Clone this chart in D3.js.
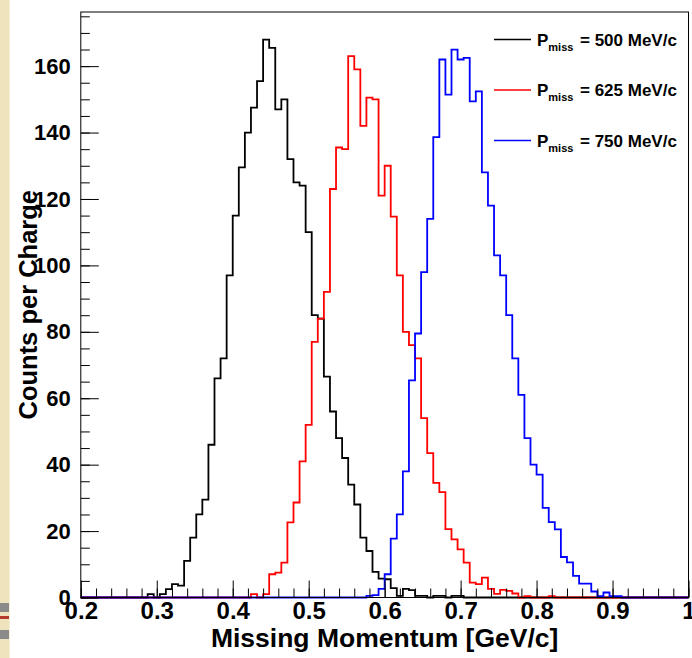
<!DOCTYPE html>
<html>
<head>
<meta charset="utf-8">
<script src="https://cdn.jsdelivr.net/npm/d3@7"></script>
<style>
  body { margin: 0; background: #fff; }
  text { font-family: "Liberation Sans", Arial, Helvetica, sans-serif; font-weight: bold; fill: #000; }
</style>
</head>
<body>
<div id="chart"></div>
<script>
// histogram binning (GeV/c)
var binLow = 0.2;
var binWidth = 0.008;

// Counts per charge, read bin by bin; first entry is the bin index given in start*
var start500 = 10;
var counts500 = [0, 1, 0, 1, 2.5, 4, 3.6, 11, 18, 25, 29.5, 46, 66, 72, 97, 115, 129.5, 140, 147.5, 155.5,
                 168, 165.5, 147, 150, 132, 125, 124, 110, 85, 84, 66.5, 56, 48, 42, 34, 28, 18, 14, 7.7, 5.7,
                 5.5, 2.8, 0.5, 2.6, 2.2, 0.5, 0.5, 0, 0.5, 0.5, 0, 0.5, 0.5];
var start625 = 28;
var counts625 = [1, 0, 1, 7, 7.5, 10.5, 22.6, 28.6, 41, 52, 77, 84, 92, 123, 135.5, 135, 163, 159, 142, 150.5,
                 150, 121, 130, 114.7, 97, 80, 76, 72, 54, 43.5, 34.5, 31.7, 20.6, 17.5, 14.5, 10.5, 4.5, 4, 6, 2.6,
                 1.1, 2.3, 2, 1.2, 0, 0.4, 0, 0, 0, 0.4];
var start750 = 47;
var counts750 = [0.5, 0.7, 2.6, 7, 17.7, 25, 38, 65.4, 79.5, 98, 114, 138.6, 162, 151.4, 165, 162, 162.5, 149.4, 152.4, 128,
                 118, 103, 97, 85, 72, 61, 48, 40, 37, 27, 22.7, 20.5, 12.2, 10.6, 6.5, 4.2, 4.2, 1.8, 0.4, 1.5,
                 0.4, 0.4];

var seriesNames = ["500", "625", "750"];
var seriesColors = ["#000000", "#ff0000", "#0000ff"];

var xTicks = [0.2, 0.3, 0.4, 0.5, 0.6, 0.7, 0.8, 0.9, 1.0];
var xTickLabels = ["0.2", "0.3", "0.4", "0.5", "0.6", "0.7", "0.8", "0.9", "1"];
var yTicks = [0, 20, 40, 60, 80, 100, 120, 140, 160];

var W = 692, H = 658;
var frame = {left: 80.8, right: 688.5, top: 12, bottom: 597.5};

var svg = d3.select("#chart").append("svg")
            .attr("width", W)
            .attr("height", H);

//slide border on the left
svg.append("rect").attr("x", 0).attr("y", 0).attr("width", 9).attr("height", H).attr("fill", "#efe3bd");
svg.append("rect").attr("x", 9).attr("y", 0).attr("width", 1).attr("height", H).attr("fill", "#f6efd9");
svg.append("rect").attr("x", 0).attr("y", 603).attr("width", 9).attr("height", 9).attr("fill", "#8a8a8a");
svg.append("rect").attr("x", 0).attr("y", 616).attr("width", 9).attr("height", 3).attr("fill", "#b53a2e");
svg.append("rect").attr("x", 0).attr("y", 630).attr("width", 9).attr("height", 9).attr("fill", "#8a8a8a");

var xScale = d3.scaleLinear().domain([0.2, 1.0]).range([frame.left, frame.right]);
var yScale = d3.scaleLinear().domain([0, 176.3]).range([frame.bottom, frame.top]);

//histograms, drawn black -> red -> blue
function fullBins(start, vals) {
  var n = Math.round((1.0 - binLow) / binWidth);
  var out = [];
  for (var i = 0; i < n; i++) {
    var v = (i >= start && i - start < vals.length) ? vals[i - start] : 0;
    out.push({lo: binLow + i * binWidth, hi: binLow + (i + 1) * binWidth, v: v});
  }
  return out;
}
function stepPoints(bins) {
  var pts = [[bins[0].lo, 0]];
  bins.forEach(function(b) { pts.push([b.lo, b.v]); pts.push([b.hi, b.v]); });
  pts.push([bins[bins.length - 1].hi, 0]);
  return pts;
}
var line = d3.line().x(function(d){ return xScale(d[0]); }).y(function(d){ return yScale(d[1]); });

var hists = [fullBins(start500, counts500), fullBins(start625, counts625), fullBins(start750, counts750)];

svg.append("g")
   .selectAll("path")
   .data(hists)
   .enter()
   .append("path")
   .attr("d", function(d){ return line(stepPoints(d)); })
   .attr("fill", "none")
   .attr("stroke", function(d, i){ return seriesColors[i]; })
   .attr("stroke-width", 1.8)
   .attr("stroke-linejoin", "miter");

//axes (ticks inside the frame)
var xMinor = d3.range(0, 41).map(function(i){ return 0.2 + i * 0.02; });
var yMinor = d3.range(0, 36).map(function(i){ return i * 5; });

var xMinorAxis = d3.axisBottom(xScale).tickValues(xMinor).tickSize(-9).tickFormat("");
var xAxis = d3.axisBottom(xScale).tickValues(xTicks).tickSize(-17).tickPadding(4)
              .tickFormat(function(d, i){ return xTickLabels[i]; });
var yMinorAxis = d3.axisLeft(yScale).tickValues(yMinor).tickSize(-9).tickFormat("");
var yAxis = d3.axisLeft(yScale).tickValues(yTicks).tickSize(-18).tickPadding(10);

var gx1 = svg.append("g").attr("transform", "translate(0," + frame.bottom + ")").call(xMinorAxis);
var gx = svg.append("g").attr("transform", "translate(0," + frame.bottom + ")").call(xAxis);
var gy1 = svg.append("g").attr("transform", "translate(" + frame.left + ",0)").call(yMinorAxis);
var gy = svg.append("g").attr("transform", "translate(" + frame.left + ",0)").call(yAxis);

[gx1, gx, gy1, gy].forEach(function(g){
  g.select(".domain").remove();
  g.selectAll(".tick line").attr("stroke", "#000").attr("stroke-width", 1);
});
gx.selectAll(".tick text").attr("font-size", 24).attr("dy", "0.72em").attr("y", 4);
gy.selectAll(".tick text").attr("font-size", 22).attr("x", -10);

//frame
svg.append("rect")
   .attr("x", frame.left).attr("y", frame.top)
   .attr("width", frame.right - frame.left).attr("height", frame.bottom - frame.top)
   .attr("fill", "none").attr("stroke", "#000").attr("stroke-width", 1);

//axis titles
svg.append("text")
   .attr("x", (frame.left + frame.right) / 2).attr("y", 647)
   .attr("text-anchor", "middle").attr("font-size", 26.5)
   .text("Missing Momentum [GeV/c]");
svg.append("text")
   .attr("transform", "translate(37," + ((frame.top + frame.bottom) / 2) + ") rotate(-90)")
   .attr("text-anchor", "middle").attr("font-size", 25.5)
   .text("Counts per Charge");

//legend
var legY = [39.5, 90, 140.5];
var leg = svg.append("g").selectAll("g").data(seriesNames).enter().append("g");
leg.append("line")
   .attr("x1", 494).attr("x2", 531)
   .attr("y1", function(d, i){ return legY[i]; }).attr("y2", function(d, i){ return legY[i]; })
   .attr("stroke", function(d, i){ return seriesColors[i]; }).attr("stroke-width", 1.5);
var lt = leg.append("text").attr("y", function(d, i){ return legY[i] + 6; }).attr("font-size", 17);
lt.append("tspan").attr("x", 537).text("P");
lt.append("tspan").attr("font-size", 11).attr("dy", 5).text("miss");
lt.append("tspan").attr("x", 580).attr("dy", -5).text(function(d){ return "= " + d + " MeV/c"; });
</script>
</body>
</html>
